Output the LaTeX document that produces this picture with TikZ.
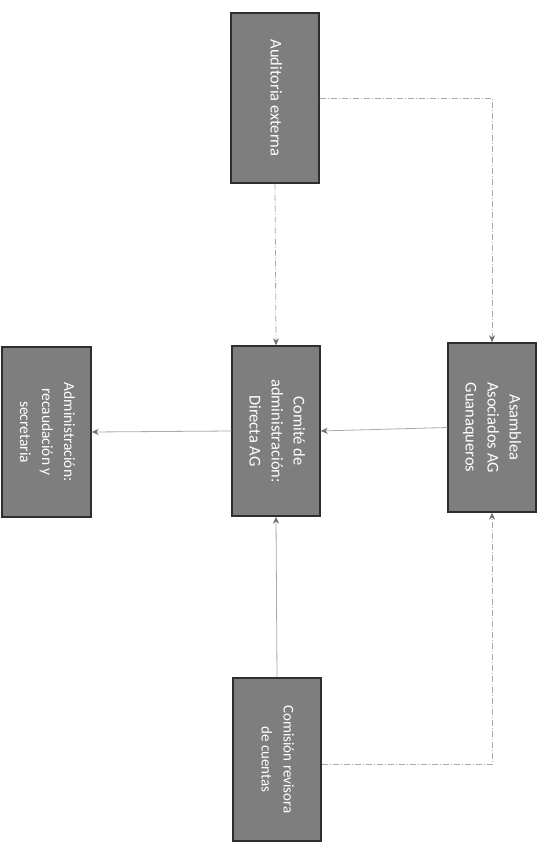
\documentclass[tikz,border=0pt]{standalone}
\usepackage{fontspec}
\setmainfont{Carlito}
\usetikzlibrary{arrows.meta}
\definecolor{boxfill}{HTML}{7E7E7E}
\definecolor{boxline}{HTML}{2E2E2E}
\definecolor{conn}{HTML}{A9A9A9}
\definecolor{tipcol}{HTML}{707070}
\tikzset{
  orgbox/.style={draw=boxline, line width=1.4pt, fill=boxfill, text=white,
    minimum width=88pt, minimum height=170pt, inner sep=0pt, shape=rectangle},
  link/.style={draw=conn, line width=0.8pt, -{Stealth[length=7pt,width=6pt,color=tipcol]}},
  dlink/.style={link, dash pattern=on 6pt off 2pt on 1pt off 2pt}
}
\newcommand{\vtext}[2]{\rotatebox{-90}{\fontsize{#1}{22}\selectfont\begin{tabular}{@{}c@{}}#2\end{tabular}}}
\begin{document}
\begin{tikzpicture}[x=1pt,y=1pt]
\useasboundingbox (0,0) rectangle (545,-842);
\fill[white] (0,0) rectangle (545,-842);
\node[orgbox] (aud) at (275,-98) {\vtext{16.5}{Auditoria externa}};
\node[orgbox] (com) at (276,-431) {\vtext{16.5}{Comité de\\administración:\\Directa AG}};
\node[orgbox, minimum height=169pt] (asa) at (492,-427.5) {\vtext{16.5}{Asamblea\\Asociados AG\\Guanaqueros}};
\node[orgbox, minimum width=89pt] (adm) at (46.5,-432) {\vtext{15.5}{Administración:\\recaudación y\\secretaria}};
\node[orgbox, minimum height=163pt] (cr) at (277,-759.5) {\vtext{15}{Comisión revisora\\de cuentas}};
\draw[dlink] (aud.south) -- (com.north);
\draw[dlink] (aud.east) -| (asa.north);
\draw[link] (asa.west) -- (com.east);
\draw[link] (com.west) -- (adm.east);
\draw[link] (cr.north) -- (com.south);
\draw[dlink] ([yshift=-5pt]cr.east) -| (asa.south);
\end{tikzpicture}
\end{document}
